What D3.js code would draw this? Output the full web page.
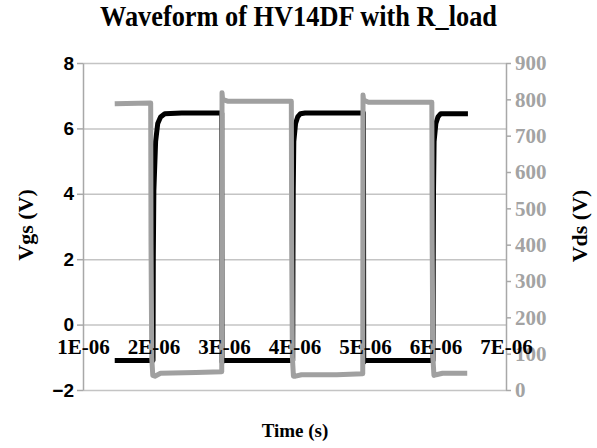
<!DOCTYPE html>
<html>
<head>
<meta charset="utf-8">
<script src="https://cdn.jsdelivr.net/npm/d3@7"></script>
<style>
  body { margin: 0; background: #fff; }
  svg { display: block; }
</style>
</head>
<body>
<div id="chart"></div>
<script>
// values, time in microseconds
const vgsTimeUs = [1.45, 1.99, 1.993, 1.997, 2.005, 2.03, 2.06, 2.1, 2.16, 2.4, 2.968, 2.972, 2.99,
  3.5, 3.975, 3.978, 3.982, 3.99, 4.015, 4.045, 4.085, 4.15, 4.5, 4.978, 4.982, 5.0,
  5.5, 5.965, 5.968, 5.972, 5.98, 6.005, 6.035, 6.075, 6.14, 6.46]
const vgsVolts = [-1.1, -1.1, -1.1, 2.0, 4.1, 5.6, 6.15, 6.35, 6.45, 6.47, 6.47, -1.15, -1.1,
  -1.1, -1.1, 2.0, 4.1, 5.6, 6.15, 6.35, 6.45, 6.47, 6.47, 6.47, -1.15, -1.1,
  -1.1, -1.1, 2.0, 4.1, 5.6, 6.15, 6.35, 6.45, 6.45, 6.45]

const vdsTimeUs = [1.45, 1.96, 1.965, 1.975, 1.99, 2.02, 2.1, 2.6, 2.968, 2.972, 2.98, 3.05,
  3.5, 3.955, 3.96, 3.97, 3.985, 4.015, 4.1, 4.6, 4.968, 4.972, 4.98, 5.05,
  5.5, 5.948, 5.953, 5.963, 5.978, 6.01, 6.1, 6.45]
const vdsVolts = [788, 790, 400, 90, 40, 38, 46, 48, 50, 818, 800, 795,
  795, 795, 400, 90, 38, 38, 42, 42, 45, 812, 798, 792,
  792, 792, 400, 90, 40, 42, 46, 46]

const vgsTicks = [-2, 0, 2, 4, 6, 8]
const vdsTicks = [0, 100, 200, 300, 400, 500, 600, 700, 800, 900]
const timeTicks = [1e-6, 2e-6, 3e-6, 4e-6, 5e-6, 6e-6, 7e-6]
const timeTickLabels = ['1E-06', '2E-06', '3E-06', '4E-06', '5E-06', '6E-06', '7E-06']

const W = 597
const H = 448
const plot = { left: 83, right: 506, top: 63, bottom: 390 }

const serif = '"Liberation Serif", "Times New Roman", serif'
const sans = '"Liberation Sans", Arial, sans-serif'

const svg = d3
  .select('#chart')
  .append('svg')
  .attr('width', W)
  .attr('height', H)

const xScale = d3.scaleLinear().domain([1e-6, 7e-6]).range([plot.left, plot.right])
const yLeft = d3.scaleLinear().domain([-2, 8]).range([plot.bottom, plot.top])
const yRight = d3.scaleLinear().domain([0, 900]).range([plot.bottom, plot.top])

// gridlines
svg
  .append('g')
  .attr('transform', `translate(${plot.left},0)`)
  .call(d3.axisLeft(yLeft).tickValues(vgsTicks).tickSize(-(plot.right - plot.left)).tickFormat(''))
  .call(g => g.select('.domain').remove())
  .selectAll('line')
  .attr('stroke', '#c4c4c4')
  .attr('stroke-width', 1.5)

// left axis
const leftAxis = svg
  .append('g')
  .attr('transform', `translate(${plot.left},0)`)
  .call(d3.axisLeft(yLeft).tickValues(vgsTicks).tickSize(6).tickPadding(3).tickSizeOuter(0))
leftAxis.select('.domain').attr('stroke', '#a8a8a8').attr('stroke-width', 1.5)
leftAxis.selectAll('.tick line').attr('stroke', '#a8a8a8').attr('stroke-width', 1.5)
leftAxis
  .selectAll('.tick text')
  .attr('font-family', sans)
  .attr('font-weight', 'bold')
  .attr('font-size', 19)
  .attr('fill', '#000')

// right axis
const rightAxis = svg
  .append('g')
  .attr('transform', `translate(${plot.right},0)`)
  .call(d3.axisRight(yRight).tickValues(vdsTicks).tickSize(5).tickPadding(4).tickSizeOuter(0))
rightAxis.select('.domain').attr('stroke', '#a8a8a8').attr('stroke-width', 1.5)
rightAxis.selectAll('.tick line').attr('stroke', '#a8a8a8').attr('stroke-width', 1.5)
rightAxis
  .selectAll('.tick text')
  .attr('font-family', serif)
  .attr('font-weight', 'bold')
  .attr('font-size', 21)
  .attr('fill', '#a3a3a3')

// waveforms
const vgsLine = d3
  .line()
  .x(d => xScale(d[0] * 1e-6))
  .y(d => yLeft(d[1]))
const vdsLine = d3
  .line()
  .x(d => xScale(d[0] * 1e-6))
  .y(d => yRight(d[1]))

svg
  .append('path')
  .datum(d3.zip(vgsTimeUs, vgsVolts))
  .attr('d', vgsLine)
  .attr('fill', 'none')
  .attr('stroke', '#000')
  .attr('stroke-width', 5)
  .attr('stroke-linejoin', 'round')

svg
  .append('path')
  .datum(d3.zip(vdsTimeUs, vdsVolts))
  .attr('d', vdsLine)
  .attr('fill', 'none')
  .attr('stroke', '#a0a0a0')
  .attr('stroke-width', 5)
  .attr('stroke-linejoin', 'round')

// time axis labels sit under the zero line
const xAxis = svg
  .append('g')
  .attr('transform', `translate(0,${yLeft(0)})`)
  .call(
    d3
      .axisBottom(xScale)
      .tickValues(timeTicks)
      .tickSize(0)
      .tickPadding(14)
      .tickFormat((d, i) => timeTickLabels[i])
  )
xAxis.select('.domain').remove()
xAxis
  .selectAll('.tick text')
  .attr('font-family', serif)
  .attr('font-weight', 'bold')
  .attr('font-size', 21)
  .attr('fill', '#000')

// titles
svg
  .append('text')
  .text('Waveform of HV14DF with R_load')
  .attr('x', 298.5)
  .attr('y', 26)
  .attr('text-anchor', 'middle')
  .attr('font-family', serif)
  .attr('font-weight', 'bold')
  .attr('font-size', 29)
  .attr('textLength', 397)
  .attr('lengthAdjust', 'spacingAndGlyphs')

svg
  .append('text')
  .text('Vgs (V)')
  .attr('transform', 'translate(33,225) rotate(-90)')
  .attr('text-anchor', 'middle')
  .attr('font-family', serif)
  .attr('font-weight', 'bold')
  .attr('font-size', 22)

svg
  .append('text')
  .text('Vds (V)')
  .attr('transform', 'translate(587,226) rotate(-90)')
  .attr('text-anchor', 'middle')
  .attr('font-family', serif)
  .attr('font-weight', 'bold')
  .attr('font-size', 22)

svg
  .append('text')
  .text('Time (s)')
  .attr('x', 295)
  .attr('y', 437)
  .attr('text-anchor', 'middle')
  .attr('font-family', serif)
  .attr('font-weight', 'bold')
  .attr('font-size', 19)
</script>
</body>
</html>
